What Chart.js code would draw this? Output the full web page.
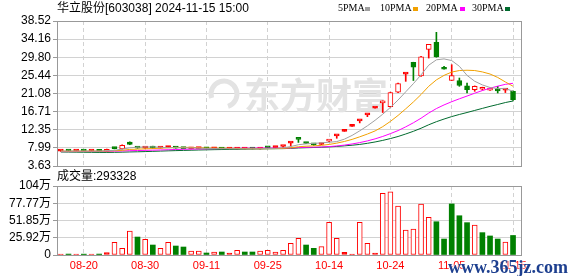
<!DOCTYPE html>
<html>
<head>
<meta charset="utf-8">
<script src="https://cdn.jsdelivr.net/npm/chart.js@4.4.1/dist/chart.umd.min.js"></script>
<style>
body { margin: 0; background: #fff; }
#wrap { position: relative; width: 578px; height: 276px; overflow: hidden; font-family: "Liberation Sans", "Noto Sans CJK SC", sans-serif; }
canvas { position: absolute; left: 0; }
#priceCanvas { top: 0; }
#volCanvas { top: 172px; }
.txt { position: absolute; white-space: nowrap; color: #000; }
#title { left: 57px; top: 1px; font-size: 12px; line-height: 14px; }
#volLabel { left: 57px; top: 169px; font-size: 12px; line-height: 14px; }
.lg { position: absolute; top: 2px; font: 10px "Liberation Serif", serif; line-height: 12px; color: #000; white-space: nowrap; }
.sq { position: absolute; top: 7px; width: 5px; height: 4px; }
#wm { position: absolute; left: 448px; top: 257px; font: bold 18px "Liberation Serif", serif; color: #1d3f8f; text-shadow: 0 0 2px #fff, 0 0 2px #fff; white-space: nowrap; }
</style>
</head>
<body>
<div id="wrap">
  <canvas id="priceCanvas" width="578" height="176"></canvas>
  <canvas id="volCanvas" width="578" height="104"></canvas>
  <div id="title" class="txt">华立股份[603038] 2024-11-15 15:00</div>
  <div id="volLabel" class="txt"></div>
  <div id="wm">www.365jz.com</div>
</div>
<script>
// daily data, 08-15 .. 11-15
var dates = ['08-15','08-16','08-19','08-20','08-21','08-22','08-23','08-26','08-27','08-28','08-29','08-30',
  '09-02','09-03','09-04','09-05','09-06','09-09','09-10','09-11','09-12','09-13','09-18','09-19','09-20','09-23','09-24','09-25','09-26','09-27','09-30',
  '10-08','10-09','10-10','10-11','10-14','10-15','10-16','10-17','10-18','10-21','10-22','10-23','10-24','10-25','10-28','10-29','10-30','10-31',
  '11-01','11-04','11-05','11-06','11-07','11-08','11-11','11-12','11-13','11-14','11-15'];

var openP = [7.20,7.25,7.22,7.26,7.20,7.24,7.12,8.05,7.74,9.40,
  7.95,7.92,8.35,7.95,8.05,8.15,7.90,7.78,7.80,7.84,
  7.78,7.80,7.72,7.70,7.72,7.76,7.72,8.05,8.05,8.33,
  9.15,10.10,9.15,8.75,8.80,9.60,10.89,11.98,13.18,14.50,
  15.95,17.55,18.80,17.90,21.40,25.75,28.60,25.30,31.70,33.40,
  26.95,24.20,24.20,22.90,22.00,22.10,21.90,22.10,21.90,21.60];
var highP = [7.30,7.30,7.30,7.30,7.28,7.26,7.70,8.10,8.70,9.44,
  8.00,8.00,8.40,8.10,8.35,8.18,7.92,7.86,7.88,7.86,
  7.82,7.82,7.76,7.84,7.80,7.78,7.82,8.10,8.15,8.38,
  9.20,10.12,9.20,8.80,9.05,9.90,10.89,11.98,13.18,14.50,
  15.95,17.55,19.31,21.40,23.60,25.80,28.60,30.00,32.90,35.80,
  27.60,28.00,24.80,23.60,22.90,22.60,22.40,22.80,22.00,21.70];
var lowP = [7.15,7.18,7.18,7.15,7.16,7.10,7.10,7.74,7.70,8.75,
  7.90,7.88,7.90,7.92,8.02,7.90,7.75,7.76,7.78,7.76,
  7.74,7.70,7.70,7.68,7.70,7.70,7.70,7.95,8.00,8.05,
  8.45,9.30,9.00,8.60,8.75,9.50,10.30,11.98,13.18,14.00,
  15.50,17.55,16.50,17.80,21.30,24.00,24.20,25.20,29.60,29.80,
  26.90,24.20,22.80,21.20,21.60,21.90,21.80,21.20,21.30,19.40];
var closeP = [7.25,7.22,7.26,7.20,7.24,7.15,7.66,7.80,8.58,8.80,
  7.92,7.95,7.92,8.05,8.30,7.92,7.80,7.82,7.85,7.78,
  7.80,7.72,7.74,7.80,7.76,7.72,7.80,8.00,8.12,8.36,
  9.20,10.05,9.05,8.70,9.00,9.90,10.89,11.98,13.18,14.50,
  15.95,17.55,19.31,21.30,23.45,25.80,27.40,29.90,32.90,29.90,
  26.90,25.40,23.00,22.00,22.80,22.50,22.30,21.70,22.00,19.60];
var prevClose = 7.20; // close before the first day

// volume, unit 万 (10k lots)
var vol = [1.5,1.4,1.5,1.3,1.5,1.4,3.5,19.0,10.0,36.0,
  27.0,23.5,15.0,10.0,19.0,13.5,12.0,6.0,6.0,3.0,
  4.5,4.5,3.0,7.0,4.5,4.5,6.0,7.0,4.5,7.0,
  17.5,25.0,15.0,10.0,12.5,49.0,25.0,4.0,1.2,49.0,
  17.5,3.0,92.7,95.0,73.6,37.6,39.0,76.7,56.6,50.0,
  24.0,76.7,59.0,48.6,45.0,33.6,28.6,24.0,19.5,29.3328];

var ma5 = [7.22,7.23,7.24,7.23,7.23,7.21,7.30,7.41,7.69,8.00,
  8.15,8.21,8.23,8.13,8.03,8.03,8.00,7.98,7.94,7.83,
  7.81,7.79,7.78,7.77,7.76,7.75,7.76,7.82,7.88,8.00,
  8.30,8.75,8.96,9.07,9.20,9.34,9.51,10.09,10.99,12.09,
  13.30,14.63,16.10,17.72,19.51,21.48,23.45,25.57,27.89,29.18,
  29.40,29.00,27.62,25.44,24.02,23.14,22.52,22.26,22.26,21.62];
var ma10 = [7.20,7.20,7.21,7.21,7.22,7.21,7.25,7.30,7.40,7.62,
  7.68,7.76,7.82,7.91,8.01,8.09,8.10,8.11,8.03,7.93,
  7.92,7.90,7.88,7.85,7.80,7.78,7.78,7.80,7.82,7.88,
  8.02,8.26,8.39,8.48,8.60,8.82,9.13,9.53,10.03,10.65,
  11.32,12.07,13.10,14.36,15.80,17.39,19.04,20.83,22.81,24.35,
  25.44,26.23,26.60,26.67,26.60,26.27,25.76,24.94,23.85,22.82];
var ma20 = [7.10,7.10,7.11,7.12,7.13,7.14,7.17,7.20,7.25,7.31,
  7.35,7.40,7.44,7.49,7.55,7.60,7.65,7.69,7.73,7.77,
  7.80,7.83,7.85,7.88,7.91,7.93,7.94,7.95,7.93,7.91,
  7.97,8.08,8.13,8.16,8.20,8.30,8.45,8.66,8.93,9.26,
  9.67,10.16,10.74,11.42,12.15,13.05,14.03,15.13,16.37,17.45,
  18.33,19.10,19.80,20.46,21.15,21.78,22.35,22.84,23.28,23.53];
var ma30 = [7.00,6.98,6.96,6.94,6.92,6.90,6.90,6.92,6.96,7.01,
  7.05,7.10,7.16,7.22,7.28,7.33,7.38,7.43,7.48,7.52,
  7.56,7.59,7.62,7.65,7.68,7.71,7.74,7.77,7.79,7.81,
  7.87,7.97,8.03,8.08,8.14,8.23,8.34,8.48,8.63,8.82,
  9.09,9.41,9.79,10.23,10.73,11.33,11.98,12.72,13.55,14.29,
  14.93,15.52,16.03,16.50,17.00,17.49,17.98,18.43,18.90,19.27];

var priceTicks = [3.63, 7.99, 12.35, 16.71, 21.08, 25.44, 29.80, 34.16, 38.52];
var priceTickLabels = ['3.63','7.99','12.35','16.71','21.08','25.44','29.80','34.16','38.52'];
var volTicks = [0, 25.92, 51.85, 77.77, 103.68];
var volTickLabels = ['0','25.92万','51.85万','77.77万','104万'];
var labeledDates = ['08-20','08-30','09-11','09-25','10-14','10-24','11-05','11-15'];

var maNames = ['5PMA','10PMA','20PMA','30PMA'];
var maColors = ['#a0a0a0','#f2a100','#ff00ff','#006b2e'];
var RED = '#ff0000', GREEN = '#008000';
var gridColor = '#d2d2d2';
var tickFont = { family: '"Liberation Sans", "Noto Sans CJK SC", sans-serif', size: 12 };

var tickIdx = labeledDates.map(function (d) { return dates.indexOf(d); });

// up/down by change vs previous close (volume colour)
function changeUp(i) {
	var prev = i ? closeP[i - 1] : prevClose;
	return closeP[i] >= prev;
}
// candle colour: close vs open, doji falls back to change
function candleUp(i) {
	if (closeP[i] !== openP[i]) return closeP[i] > openP[i];
	return changeUp(i);
}

// legend + volume text
var wrap = document.getElementById('wrap');
var lgTextX = [338, 380, 426, 472];
var lgBoxX = [365, 413, 460, 505];
maNames.forEach(function (name, k) {
	var t = document.createElement('div');
	t.className = 'lg';
	t.style.left = lgTextX[k] + 'px';
	t.textContent = name;
	wrap.appendChild(t);
	var b = document.createElement('div');
	b.className = 'sq';
	b.style.left = lgBoxX[k] + 'px';
	b.style.background = maColors[k];
	wrap.appendChild(b);
});
document.getElementById('volLabel').textContent = '成交量:' + Math.round(vol[vol.length - 1] * 10000);

// supporting plugins
var boxPlugin = {
	id: 'box',
	afterDraw: function (chart) {
		var a = chart.chartArea, ctx = chart.ctx;
		ctx.save();
		ctx.strokeStyle = '#999';
		ctx.lineWidth = 1;
		ctx.strokeRect(Math.round(a.left) + 0.5, Math.round(a.top) + 0.5, Math.round(a.right - a.left) - 1, Math.round(a.bottom - a.top));
		ctx.restore();
	}
};

var watermarkPlugin = {
	id: 'dfcfMark',
	beforeDatasetsDraw: function (chart) {
		var ctx = chart.ctx;
		ctx.save();
		ctx.fillStyle = '#e3e3e3';
		ctx.strokeStyle = '#e3e3e3';
		ctx.lineWidth = 5;
		ctx.beginPath();
		ctx.arc(224, 94, 13, Math.PI * 0.9, Math.PI * 2.4);
		ctx.stroke();
		ctx.font = 'bold 36px "Noto Sans CJK SC", sans-serif';
		ctx.textBaseline = 'middle';
		ctx.fillText('东方财富', 244, 95);
		ctx.restore();
	}
};

function xScale(showLabels) {
	return {
		type: 'linear',
		min: -0.5,
		max: 60.17,
		offset: false,
		afterBuildTicks: function (s) { s.ticks = tickIdx.map(function (v) { return { value: v }; }); },
		ticks: {
			display: showLabels,
			autoSkip: false,
			maxRotation: 0,
			padding: 4,
			color: RED,
			font: { family: tickFont.family, size: 11 },
			callback: function (v) { return dates[v]; }
		},
		grid: { offset: false, color: gridColor, drawTicks: false, borderDash: [4, 3] },
		border: { display: false, dash: [4, 3] },
		afterFit: function (s) { s.height = showLabels ? 21 : 0; }
	};
}

function yScale(tickVals, tickLabels) {
	return {
		min: tickVals[0],
		max: tickVals[tickVals.length - 1],
		afterBuildTicks: function (s) { s.ticks = tickVals.map(function (v) { return { value: v }; }); },
		ticks: {
			autoSkip: false,
			padding: 2,
			color: '#000',
			font: tickFont,
			callback: function (v, i) { return tickLabels[i]; }
		},
		grid: { color: gridColor, tickLength: 4, tickColor: '#999' },
		border: { display: false },
		afterFit: function (s) { s.width = 57; }
	};
}

// Price chart
var maSets = [ma5, ma10, ma20, ma30].map(function (arr, k) {
	return {
		type: 'line',
		label: maNames[k],
		data: arr.map(function (v, i) { return { x: i, y: v }; }),
		borderColor: maColors[k],
		borderWidth: 1,
		pointRadius: 0,
		tension: 0,
		fill: false,
		order: 0
	};
});

var bodyColors = [], bodyFills = [], wickColors = [];
dates.forEach(function (d, i) {
	var up = candleUp(i);
	var c = up ? RED : GREEN;
	bodyColors.push(c);
	wickColors.push(c);
	bodyFills.push(up && (closeP[i] - openP[i]) > 0.3 ? '#ffffff' : c);
});

new Chart(document.getElementById('priceCanvas'), {
	type: 'bar',
	data: {
		datasets: maSets.concat([
			{
				label: 'body',
				data: dates.map(function (d, i) { return { x: i, y: [Math.min(openP[i], closeP[i]), Math.max(openP[i], closeP[i])] }; }),
				backgroundColor: bodyFills,
				borderColor: bodyColors,
				borderWidth: 1,
				borderSkipped: false,
				barThickness: 5,
				minBarLength: 2,
				grouped: false,
				order: 1
			},
			{
				label: 'wick',
				data: dates.map(function (d, i) { return { x: i, y: [lowP[i], highP[i]] }; }),
				backgroundColor: wickColors,
				borderWidth: 0,
				barThickness: 1,
				minBarLength: 1,
				grouped: false,
				order: 2
			}
		])
	},
	options: {
		responsive: false,
		animation: false,
		events: [],
		devicePixelRatio: 1,
		layout: { padding: { top: 21, right: 56, bottom: 10, left: 0 } },
		plugins: { legend: { display: false }, tooltip: { enabled: false } },
		scales: {
			x: xScale(false),
			y: yScale(priceTicks, priceTickLabels)
		}
	},
	plugins: [watermarkPlugin, boxPlugin]
});

// Volume chart
var volFill = [], volBorder = [], volBorderW = [];
vol.forEach(function (v, i) {
	var up = changeUp(i);
	volBorder.push(up ? RED : GREEN);
	volFill.push(up && v > 4 ? '#ffffff' : (up ? RED : GREEN));
	volBorderW.push(up ? 1 : 0);
});

new Chart(document.getElementById('volCanvas'), {
	type: 'bar',
	data: {
		datasets: [{
			label: 'volume',
			data: vol.map(function (v, i) { return { x: i, y: v }; }),
			backgroundColor: volFill,
			borderColor: volBorder,
			borderWidth: volBorderW,
			borderSkipped: false,
			barThickness: 5,
			grouped: false
		}]
	},
	options: {
		responsive: false,
		animation: false,
		events: [],
		devicePixelRatio: 1,
		layout: { padding: { top: 14, right: 56, bottom: 0, left: 0 } },
		plugins: { legend: { display: false }, tooltip: { enabled: false } },
		scales: {
			x: xScale(true),
			y: yScale(volTicks, volTickLabels)
		}
	},
	plugins: [boxPlugin]
});
</script>
</body>
</html>
